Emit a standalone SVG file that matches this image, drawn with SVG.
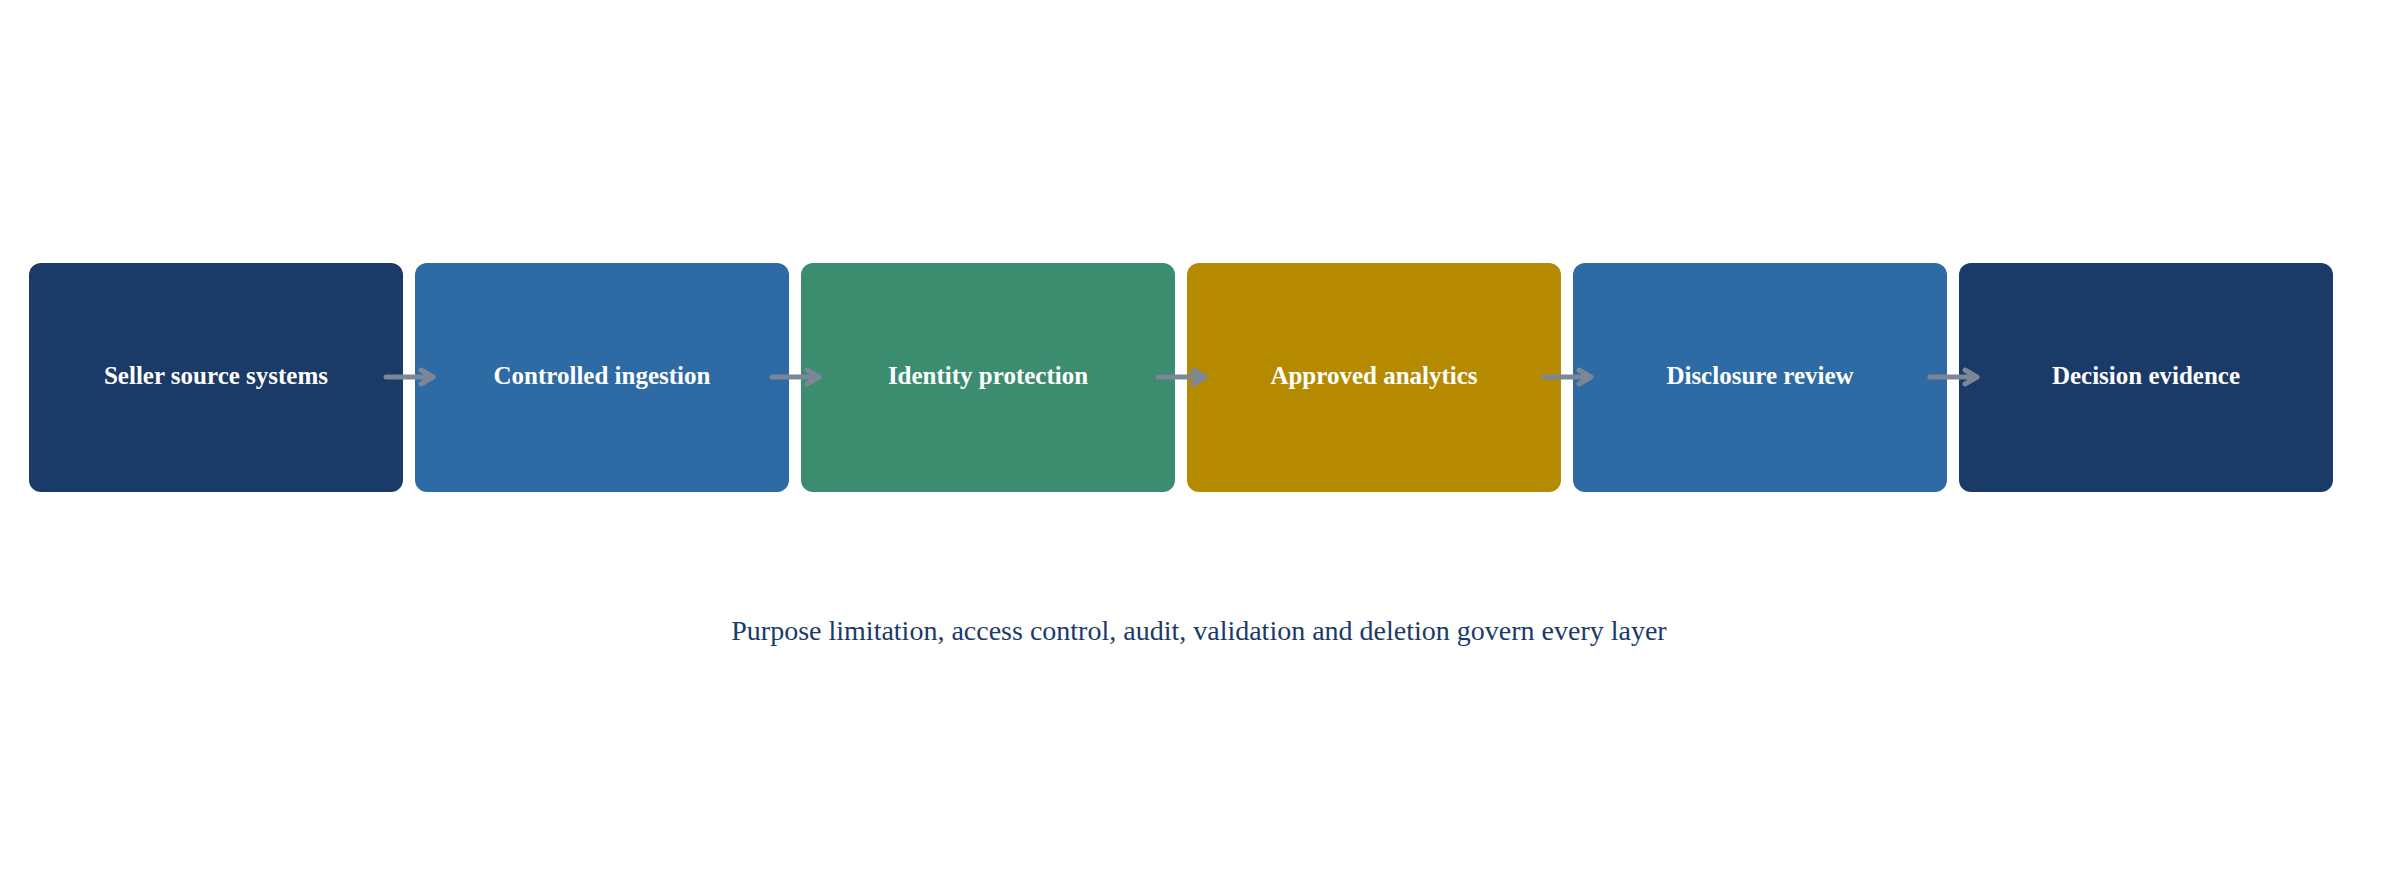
<svg xmlns="http://www.w3.org/2000/svg" width="2398" height="880" viewBox="0 0 2398 880">
<style>
.box{stroke:none}
.lbl{font-family:"Liberation Serif","Times New Roman",serif;font-weight:bold;font-size:25px;fill:#ffffff;text-anchor:middle}
.note{font-family:"Liberation Serif","Times New Roman",serif;font-size:28px;fill:#1a3a67;text-anchor:middle}
.conn{fill:none;stroke:#7b8698;stroke-width:5;stroke-linecap:round;stroke-linejoin:round}
</style>
<rect width="2398" height="880" fill="#ffffff"/>
<g id="n1"><rect class="box" x="29" y="263" width="374" height="229" rx="12" fill="#1a3a67"/><text class="lbl" x="216" y="384">Seller source systems</text></g>
<g id="n2"><rect class="box" x="415" y="263" width="374" height="229" rx="12" fill="#2e6ba4"/><text class="lbl" x="602" y="384">Controlled ingestion</text></g>
<g id="n3"><rect class="box" x="801" y="263" width="374" height="229" rx="12" fill="#3c8c6f"/><text class="lbl" x="988" y="384">Identity protection</text></g>
<g id="n4"><rect class="box" x="1187" y="263" width="374" height="229" rx="12" fill="#b58a00"/><text class="lbl" x="1374" y="384">Approved analytics</text></g>
<g id="n5"><rect class="box" x="1573" y="263" width="374" height="229" rx="12" fill="#2e6ba4"/><text class="lbl" x="1760" y="384">Disclosure review</text></g>
<g id="n6"><rect class="box" x="1959" y="263" width="374" height="229" rx="12" fill="#1a3a67"/><text class="lbl" x="2146" y="384">Decision evidence</text></g>
<g id="connectors">
<path class="conn" d="M386,377 H433 M421,370 L433,377 L421,384"/>
<path class="conn" d="M772,377 H819 M807,370 L819,377 L807,384"/>
<path class="conn" d="M1158,377 H1205 M1193,370 L1205,377 L1193,384"/>
<path class="conn" d="M1544,377 H1591 M1579,370 L1591,377 L1579,384"/>
<path class="conn" d="M1930,377 H1977 M1965,370 L1977,377 L1965,384"/>
</g>
<g id="footer"><text class="note" x="1199" y="640">Purpose limitation, access control, audit, validation and deletion govern every layer</text></g>
</svg>
